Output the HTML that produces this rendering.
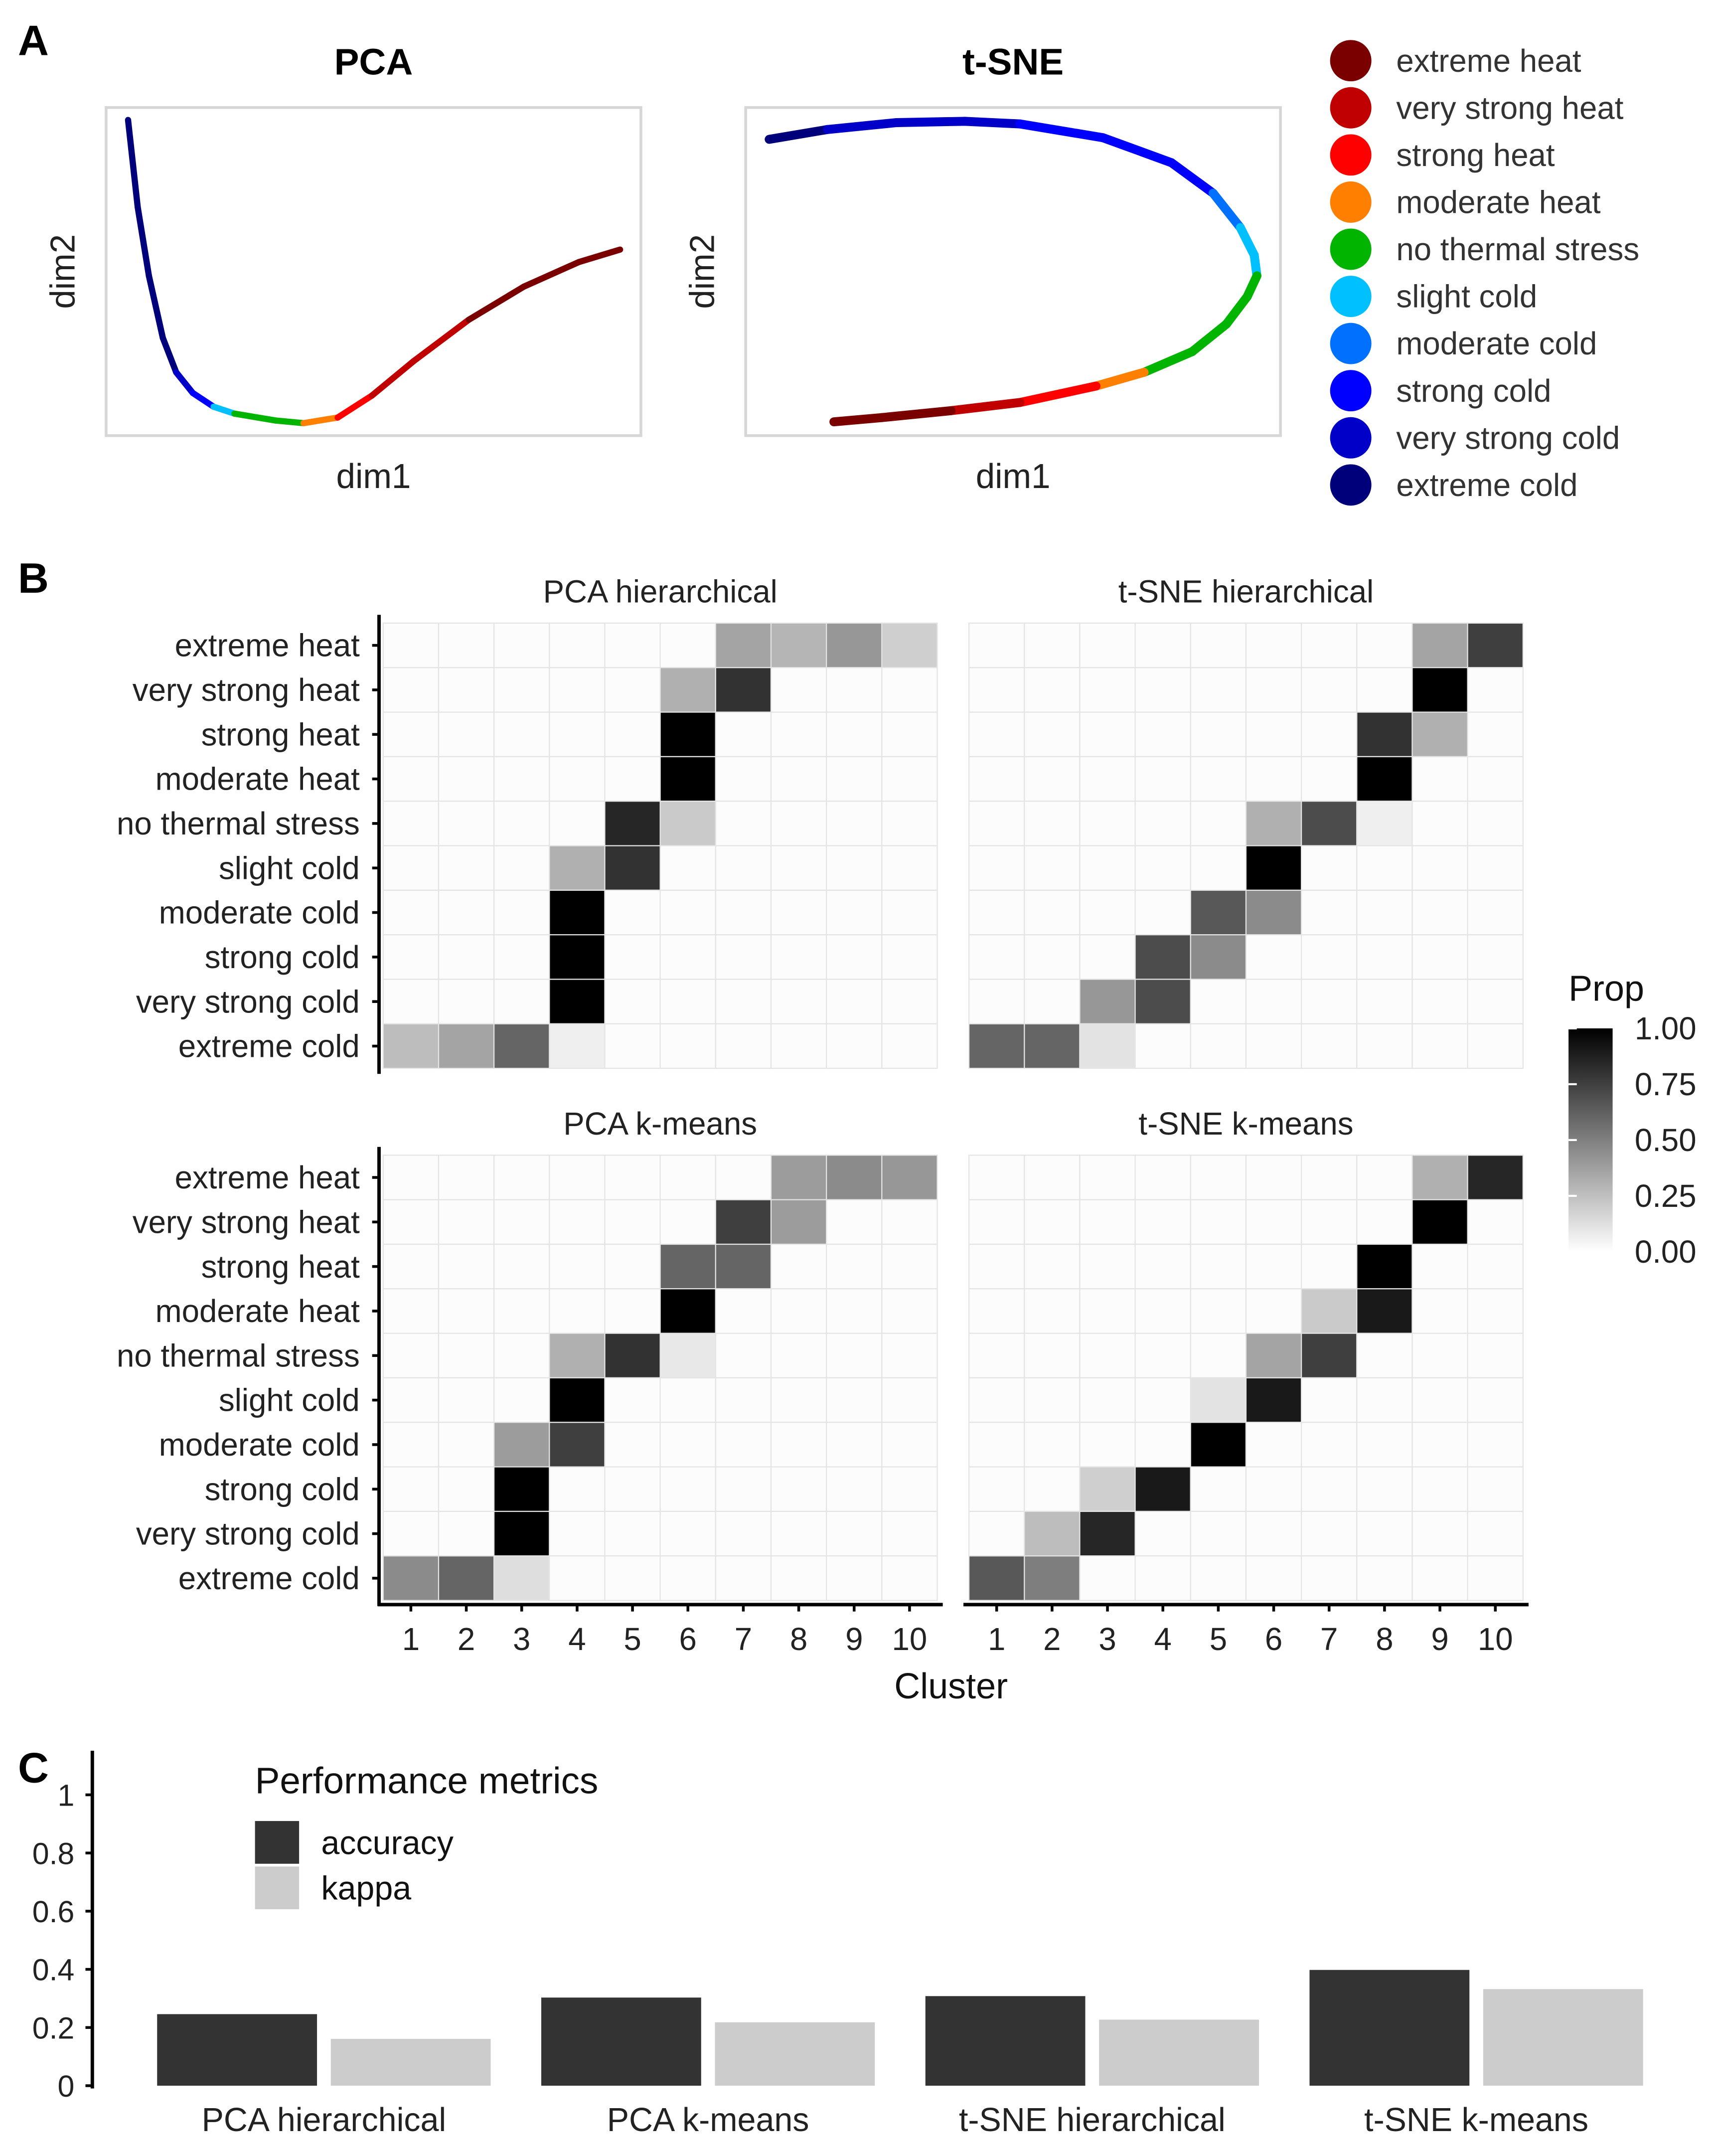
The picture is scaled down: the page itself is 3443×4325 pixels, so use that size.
<!DOCTYPE html>
<html><head><meta charset="utf-8"><style>
html,body{margin:0;padding:0;background:#fff}
svg{display:block}
text{font-family:"Liberation Sans",sans-serif}
</style></head><body>
<svg id="fig" width="3443" height="4325" viewBox="0 0 1245 1564" preserveAspectRatio="none" xmlns="http://www.w3.org/2000/svg">
<g>
<text x="13" y="40" font-size="31" font-weight="bold">A</text>
<text x="271" y="54" font-size="27" font-weight="bold" text-anchor="middle">PCA</text>
<text x="735" y="54" font-size="27" font-weight="bold" text-anchor="middle">t-SNE</text>
<rect x="77" y="78" width="388" height="238" fill="none" stroke="#d6d6d6" stroke-width="2"/>
<rect x="541" y="78" width="388" height="238" fill="none" stroke="#d6d6d6" stroke-width="2"/>
<text transform="translate(54,197) rotate(-90)" font-size="25" text-anchor="middle" fill="#222">dim2</text>
<text transform="translate(518,197) rotate(-90)" font-size="25" text-anchor="middle" fill="#222">dim2</text>
<text x="271" y="354" font-size="25" text-anchor="middle" fill="#222">dim1</text>
<text x="735" y="354" font-size="25" text-anchor="middle" fill="#222">dim1</text>
<g id="curves" fill="none" stroke-linecap="round" stroke-linejoin="round"></g>
<g id="legA"></g>
</g>
<g>
<text x="13" y="430" font-size="31" font-weight="bold">B</text>
<g id="heat"></g>
<text x="690" y="1232" font-size="26" text-anchor="middle" fill="#111">Cluster</text>
<text x="1138" y="726" font-size="26" fill="#111">Prop</text>
<defs><linearGradient id="pg" x1="0" y1="0" x2="0" y2="1"><stop offset="0" stop-color="#000"/><stop offset="1" stop-color="#fff"/></linearGradient></defs>
<rect x="1138" y="746" width="32" height="162" fill="url(#pg)"/>
<g id="pticks"></g>
</g>
<g>
<text x="13" y="1293" font-size="31" font-weight="bold">C</text>
<g id="bars"></g>
<text x="185" y="1301" font-size="27" fill="#111">Performance metrics</text>
<rect x="185" y="1321" width="32" height="31" fill="#333"/>
<rect x="185" y="1354" width="32" height="31" fill="#ccc"/>
<text x="233" y="1345" font-size="24" fill="#111">accuracy</text>
<text x="233" y="1378" font-size="24" fill="#111">kappa</text>
</g>
</svg>
<script>
const NS="http://www.w3.org/2000/svg";
const classes=["extreme heat","very strong heat","strong heat","moderate heat","no thermal stress","slight cold","moderate cold","strong cold","very strong cold","extreme cold"];
const classColors=["#7a0000","#c00000","#ff0000","#ff8000","#00b400","#00c0ff","#0070ff","#0000ff","#0000c8","#00007a"];
const clusters=[1,2,3,4,5,6,7,8,9,10];
const pcaHier=[
[0,0,0,0,0,0,0.35,0.28,0.4,0.18],
[0,0,0,0,0,0.3,0.8,0,0,0],
[0,0,0,0,0,1,0,0,0,0],
[0,0,0,0,0,1,0,0,0,0],
[0,0,0,0,0.85,0.2,0,0,0,0],
[0,0,0,0.3,0.8,0,0,0,0,0],
[0,0,0,1,0,0,0,0,0,0],
[0,0,0,1,0,0,0,0,0,0],
[0,0,0,1,0,0,0,0,0,0],
[0.25,0.35,0.6,0.05,0,0,0,0,0,0]];
const tsneHier=[
[0,0,0,0,0,0,0,0,0.35,0.75],
[0,0,0,0,0,0,0,0,1,0],
[0,0,0,0,0,0,0,0.8,0.3,0],
[0,0,0,0,0,0,0,1,0,0],
[0,0,0,0,0,0.3,0.7,0.05,0,0],
[0,0,0,0,0,1,0,0,0,0],
[0,0,0,0,0.65,0.45,0,0,0,0],
[0,0,0,0.7,0.45,0,0,0,0,0],
[0,0,0.4,0.7,0,0,0,0,0,0],
[0.6,0.6,0.1,0,0,0,0,0,0,0]];
const pcaKm=[
[0,0,0,0,0,0,0,0.38,0.45,0.4],
[0,0,0,0,0,0,0.75,0.38,0,0],
[0,0,0,0,0,0.6,0.6,0,0,0],
[0,0,0,0,0,1,0,0,0,0],
[0,0,0,0.3,0.8,0.08,0,0,0,0],
[0,0,0,1,0,0,0,0,0,0],
[0,0,0.38,0.75,0,0,0,0,0,0],
[0,0,1,0,0,0,0,0,0,0],
[0,0,1,0,0,0,0,0,0,0],
[0.45,0.6,0.12,0,0,0,0,0,0,0]];
const tsneKm=[
[0,0,0,0,0,0,0,0,0.3,0.85],
[0,0,0,0,0,0,0,0,1,0],
[0,0,0,0,0,0,0,1,0,0],
[0,0,0,0,0,0,0.2,0.9,0,0],
[0,0,0,0,0,0.35,0.75,0,0,0],
[0,0,0,0,0.1,0.9,0,0,0,0],
[0,0,0,0,1,0,0,0,0,0],
[0,0,0.18,0.9,0,0,0,0,0,0],
[0,0.25,0.85,0,0,0,0,0,0,0],
[0.65,0.5,0,0,0,0,0,0,0,0]];
const propTicks=[1.00,0.75,0.50,0.25,0.00];
const methods=["PCA hierarchical","PCA k-means","t-SNE hierarchical","t-SNE k-means"];
const accuracy=[0.246,0.303,0.308,0.398];
const kappa=[0.161,0.218,0.227,0.332];
const yTicks=[0,0.2,0.4,0.6,0.8,1];
const yTickLabels=["0","0.2","0.4","0.6","0.8","1"];
const pcaX=[0.041,0.059,0.08,0.106,0.131,0.162,0.201,0.24,0.317,0.369,0.433,0.497,0.575,0.678,0.781,0.884,0.961];
const pcaY=[0.962,0.697,0.487,0.298,0.193,0.13,0.088,0.067,0.046,0.038,0.055,0.122,0.227,0.353,0.454,0.529,0.567];
const pcaCls=[9,9,9,9,9,8,7,5,4,4,3,2,1,1,0,0,0];
const tsneX=[0.044,0.153,0.282,0.41,0.513,0.668,0.796,0.874,0.925,0.951,0.956,0.938,0.899,0.835,0.745,0.655,0.513,0.384,0.255,0.165];
const tsneY=[0.903,0.933,0.954,0.958,0.95,0.908,0.832,0.739,0.634,0.55,0.487,0.424,0.34,0.256,0.193,0.151,0.101,0.076,0.055,0.042];
const tsneCls=[9,9,8,8,8,7,7,7,6,5,5,4,4,4,4,3,2,1,0,0];

function mk(tag,attrs,parent){const e=document.createElementNS(NS,tag);for(const k in attrs)e.setAttribute(k,attrs[k]);parent.appendChild(e);return e;}

const curves=document.getElementById('curves');
function drawCurve(xs,ys,cls,bx,by,bw,bh,w,name){
  const sx=v=>bx+v*bw, sy=v=>by+bh-v*bh;
  for(let i=0;i<xs.length-1;i++){
    const l=mk('line',{x1:sx(xs[i]),y1:sy(ys[i]),x2:sx(xs[i+1]),y2:sy(ys[i+1]),stroke:classColors[cls[i+1]],'stroke-width':w},curves);
    
    
  }
}
drawCurve(pcaX,pcaY,pcaCls,77,78,388,238,4.5,'pca-curve');
drawCurve(tsneX,tsneY,tsneCls,541,78,388,238,6.5,'tsne-curve');

const legA=document.getElementById('legA');
classes.forEach((c,i)=>{
  const y=44+i*34.2;
  const ci=mk('circle',{cx:980,cy:y,r:15,fill:classColors[i]},legA);
  
  
  const t=mk('text',{x:1013,y:y+8,'font-size':23,fill:'#333'},legA);t.textContent=c;
  
  
});

const heat=document.getElementById('heat');
const panels=[[pcaHier,"PCA hierarchical",278,452],[tsneHier,"t-SNE hierarchical",703,452],[pcaKm,"PCA k-means",278,838],[tsneKm,"t-SNE k-means",703,838]];
const cw=40.2, ch=32.3;
const colX=(x0,j)=>x0+j*cw, rowY=(y0,i)=>y0+i*ch;
function gray(v){const g=Math.round(252-252*v);return `rgb(${g},${g},${g})`;}
panels.forEach(([m,title,x0,y0],pi)=>{
  const slug=title.toLowerCase().replace(/ /g,'-');
  const tt=mk('text',{x:x0+5*cw,y:y0-15,'font-size':23,'text-anchor':'middle',fill:'#222'},heat);tt.textContent=title;
  
  
  m.forEach((row,i)=>row.forEach((v,j)=>{
    const r=mk('rect',{x:colX(x0,j),y:rowY(y0,i),width:cw,height:ch,fill:gray(v),stroke:'#e4e4e4','stroke-width':0.8},heat);
    
    
  }));
  if(pi%2==0){
    const ax=mk('line',{x1:275,y1:y0-6,x2:275,y2:y0+10*ch+4,stroke:'#000','stroke-width':2.5},heat);
    
    
    classes.forEach((c,i)=>{
      const yc=rowY(y0,i)+ch/2;
      const tk=mk('line',{x1:270,y1:yc,x2:275,y2:yc,stroke:'#000','stroke-width':2},heat);
      
      
      const t=mk('text',{x:261,y:yc+8,'font-size':23,'text-anchor':'end',fill:'#222'},heat);t.textContent=c;
      
      
    });
  }
  if(pi>=2){
    const xl=mk('line',{x1:x0-4,y1:1164,x2:x0+10*cw+4,y2:1164,stroke:'#000','stroke-width':2.5},heat);
    
    
    clusters.forEach((c,j)=>{
      const xc=colX(x0,j)+cw/2;
      const tk=mk('line',{x1:xc,y1:1164,x2:xc,y2:1169,stroke:'#000','stroke-width':2},heat);
      
      
      const t=mk('text',{x:xc,y:1197,'font-size':23,'text-anchor':'middle',fill:'#222'},heat);t.textContent=c;
      
      
    });
  }
});
const pt=document.getElementById('pticks');
propTicks.forEach(v=>{
  const y=908-v*162;
  const a=mk('line',{x1:1138,y1:y,x2:1144,y2:y,stroke:'#fff','stroke-width':1.5},pt);
  
  
  const t=mk('text',{x:1186,y:y+8,'font-size':23,fill:'#222'},pt);t.textContent=v.toFixed(2);
  
  
});

const bars=document.getElementById('bars');
const yB=v=>1513-211*v;
const gx=i=>235+i*278.7;
const ax=mk('line',{x1:67,y1:1270,x2:67,y2:1515,stroke:'#000','stroke-width':2.5},bars);


yTicks.forEach((v,i)=>{
  const tk=mk('line',{x1:62,y1:yB(v),x2:67,y2:yB(v),stroke:'#000','stroke-width':2},bars);
  
  
  const t=mk('text',{x:54,y:yB(v)+8,'font-size':22,'text-anchor':'end',fill:'#222'},bars);t.textContent=yTickLabels[i];
  
  
});
methods.forEach((m,i)=>{
  const a=mk('rect',{x:gx(i)-121,y:yB(accuracy[i]),width:116,height:yB(0)-yB(accuracy[i]),fill:'#333'},bars);
  
  
  const k=mk('rect',{x:gx(i)+5,y:yB(kappa[i]),width:116,height:yB(0)-yB(kappa[i]),fill:'#ccc'},bars);
  
  
  const t=mk('text',{x:gx(i),y:1546,'font-size':24,'text-anchor':'middle',fill:'#222'},bars);t.textContent=m;
  
  
});
</script>
</body></html>
